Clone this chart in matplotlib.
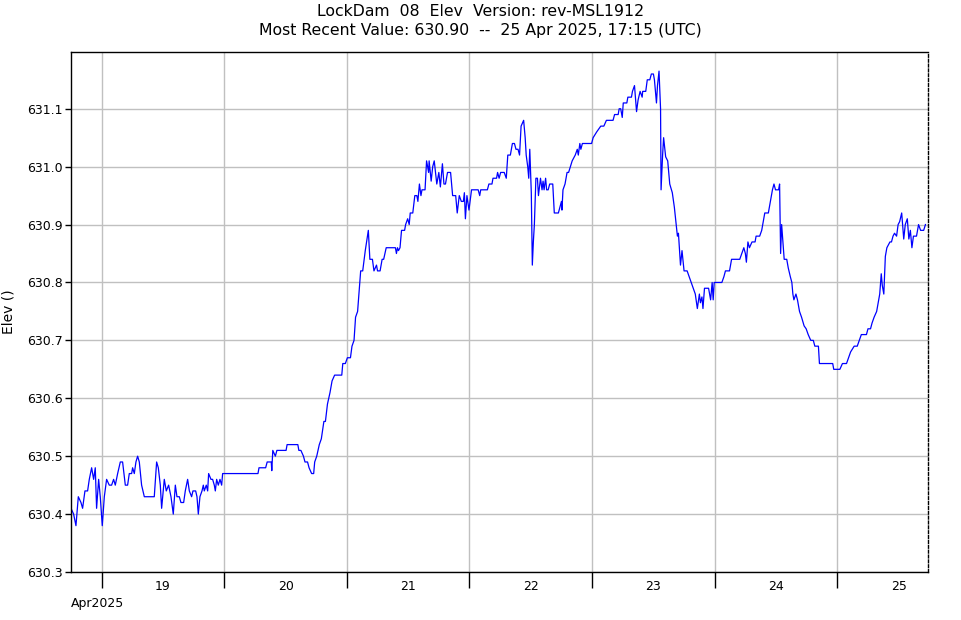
import numpy as np
import pandas as pd
import matplotlib
matplotlib.use("Agg")
import matplotlib.pyplot as plt
import matplotlib.dates as mdates

# hours after 2025-04-19 00:00 UTC, and the stage read at that time
hours = [
    -6.0, -5.49, -5.03, -4.57, -4.05, -3.73, -3.27, -2.75, -2.42, -1.96,
    -1.57, -1.25, -0.99, -0.59, -0.27, 0.12, 0.52, 0.97, 1.49, 1.95,
    2.34, 2.67, 3.13, 3.65, 4.10, 4.63, 5.08, 5.41, 5.87, 6.06,
    6.39, 6.71, 7.04, 7.37, 7.82, 8.35, 9.0, 10.30, 10.76, 11.09,
    11.48, 11.74, 12.26, 12.65, 13.11, 13.57, 14.02, 14.42, 14.74, 15.20,
    15.52, 16.05, 16.37, 16.83, 17.16, 17.61, 17.87, 18.40, 18.66, 18.92,
    19.24, 19.64, 19.90, 20.09, 20.48, 20.75, 20.94, 21.40, 21.72, 22.05,
    22.25, 22.51, 22.83, 23.16, 23.49, 23.68, 24.0,
    30.6, 30.8, 32.1, 32.4, 33.2, 33.3, 33.5, 34.0, 34.3, 36.1,
    36.3, 38.4, 38.6, 39.0, 39.5, 39.8, 40.3, 40.6, 41.1, 41.5,
    41.7, 42.1, 42.6, 43.0, 43.5, 43.8, 44.2, 44.7, 45.1, 45.6,
    47.0, 47.2, 47.7, 48.1, 48.7, 49.0, 49.4, 49.7, 50.1, 50.7,
    51.1, 51.6, 52.2, 52.5, 53.0, 53.3, 53.8, 54.0, 54.5, 54.9,
    55.2, 55.7, 57.5, 57.7, 57.9, 58.1, 58.4, 58.7, 59.3, 59.5,
    59.9, 60.2, 60.4, 60.9, 61.3, 61.7, 61.9, 62.2, 62.5, 62.7,
    63.3, 63.6, 64.0, 64.1, 64.5, 64.8, 65.1, 65.6, 66.0, 66.3,
    66.7, 67.0, 67.3, 67.7, 68.3, 68.7, 69.3, 69.6, 70.0, 70.4,
    70.8, 71.0, 71.2, 71.5, 71.9, 72.4, 73.7, 74.0, 74.2, 75.5,
    75.8, 76.4, 76.6, 77.3, 77.5, 77.8, 78.1, 78.8, 79.2, 79.5,
    80.0, 80.4, 80.8, 81.1, 81.5, 81.8, 82.1, 82.6, 82.9, 83.1,
    83.4, 83.6, 83.8, 84.1, 84.3, 84.5, 84.7, 85.0, 85.3, 85.5,
    85.9, 86.2, 86.4, 86.6, 86.9, 87.1, 87.4, 87.7,
    88.3, 88.6, 89.4, 89.7, 90.0, 90.1, 90.3, 90.7, 91.1, 91.4,
    92.1, 92.7, 93.1, 93.3, 93.6, 93.8, 94.1, 95.9, 96.2, 96.9,
    97.7, 98.3, 98.8, 100.1, 100.4, 101.1, 101.3, 101.6, 101.9, 102.1,
    102.8, 103.0, 103.7, 103.9, 104.3, 104.7, 105.0, 105.4, 105.8, 105.9,
    106.5, 106.8, 107.3, 107.6, 108.0, 108.2, 108.6, 108.8, 109.1, 109.4,
    109.5, 109.8, 110.0, 110.4, 110.8, 111.2, 111.7, 112.1, 112.7, 112.9,
    113.3, 113.6, 114.0, 114.6, 115.0, 115.4, 115.8, 116.2, 116.6, 117.0,
    117.2, 117.5, 117.7, 118.0, 118.8, 119.2, 119.5, 119.7, 119.9,
    121.4, 121.8, 122.1, 122.9, 123.3, 124.9, 125.3, 125.7, 126.0, 126.2,
    126.5, 126.8, 127.3, 127.9, 128.1, 128.8, 129.2, 129.8, 130.5, 130.9,
    131.3, 131.6, 131.9, 132.5, 132.7, 132.9, 133.1, 133.3, 133.6, 134.1,
    134.4, 134.8, 135.1, 135.3, 135.5, 135.9, 136.2, 136.6, 137.0, 137.5,
    137.9, 138.3, 138.8, 139.3, 139.6, 140.3, 140.5, 143.1, 143.3, 144.5,
    145.0, 145.8, 146.2, 146.6, 147.3, 147.9, 148.3, 148.7, 149.7, 150.0,
    150.5, 150.8, 151.2, 151.7, 152.1, 152.3, 152.6, 152.8, 153.1, 153.4,
    153.7, 154.3, 154.6, 154.9, 155.2, 155.6, 155.9, 156.2, 156.6, 157.0,
    157.3, 157.7, 158.0, 158.3, 158.6, 158.9, 159.5, 159.9, 160.3, 160.9,
    161.25,
]
elev = [
    630.41, 630.40, 630.38, 630.43, 630.42, 630.41, 630.44, 630.44, 630.46, 630.48,
    630.46, 630.48, 630.41, 630.46, 630.43, 630.38, 630.43, 630.46, 630.45, 630.45,
    630.46, 630.45, 630.47, 630.49, 630.49, 630.45, 630.45, 630.47, 630.47, 630.48,
    630.47, 630.49, 630.50, 630.49, 630.45, 630.43, 630.43, 630.43, 630.49, 630.48,
    630.45, 630.41, 630.46, 630.44, 630.45, 630.43, 630.40, 630.45, 630.43, 630.43,
    630.42, 630.42, 630.44, 630.46, 630.44, 630.43, 630.44, 630.44, 630.43, 630.40,
    630.43, 630.44, 630.45, 630.44, 630.45, 630.44, 630.47, 630.46, 630.46, 630.45,
    630.44, 630.46, 630.45, 630.46, 630.45, 630.47, 630.47,
    630.47, 630.48, 630.48, 630.49, 630.49, 630.475, 630.51, 630.50, 630.51, 630.51,
    630.52, 630.52, 630.51, 630.51, 630.50, 630.49, 630.49, 630.48, 630.47, 630.47,
    630.49, 630.50, 630.52, 630.53, 630.56, 630.56, 630.59, 630.61, 630.63, 630.64,
    630.64, 630.66, 630.66, 630.67, 630.67, 630.69, 630.70, 630.74, 630.75, 630.82,
    630.82, 630.855, 630.89, 630.84, 630.84, 630.82, 630.83, 630.82, 630.82, 630.84,
    630.84, 630.86, 630.86, 630.85, 630.86, 630.855, 630.86, 630.89, 630.89, 630.90,
    630.91, 630.90, 630.92, 630.92, 630.95, 630.95, 630.94, 630.97, 630.95, 630.96,
    630.96, 631.01, 630.99, 631.01, 630.975, 631.00, 631.01, 630.97, 630.99, 630.965,
    631.005, 630.97, 630.97, 630.99, 630.99, 630.95, 630.95, 630.92, 630.95, 630.94,
    630.94, 630.955, 630.91, 630.95, 630.925, 630.96, 630.96, 630.95, 630.96, 630.96,
    630.97, 630.97, 630.98, 630.98, 630.99, 630.98, 630.99, 630.99, 630.98, 631.02,
    631.02, 631.04, 631.04, 631.03, 631.03, 631.02, 631.07, 631.08, 631.05, 631.02,
    631.00, 630.98, 631.03, 630.955, 630.83, 630.87, 630.90, 630.98, 630.98, 630.95,
    630.98, 630.96, 630.975, 630.96, 630.98, 630.96, 630.96, 630.97,
    630.97, 630.92, 630.92, 630.93, 630.94, 630.925, 630.96, 630.97, 630.99, 630.99,
    631.01, 631.02, 631.03, 631.02, 631.04, 631.03, 631.04, 631.04, 631.05, 631.06,
    631.07, 631.07, 631.08, 631.08, 631.09, 631.09, 631.10, 631.10, 631.085, 631.11,
    631.11, 631.12, 631.12, 631.13, 631.14, 631.095, 631.115, 631.13, 631.12, 631.13,
    631.13, 631.15, 631.15, 631.16, 631.16, 631.15, 631.11, 631.14, 631.165, 631.10,
    630.96, 631.02, 631.05, 631.017, 631.01, 630.97, 630.955, 630.93, 630.88, 630.885,
    630.83, 630.855, 630.82, 630.82, 630.81, 630.80, 630.79, 630.78, 630.755, 630.78,
    630.765, 630.775, 630.755, 630.79, 630.79, 630.77, 630.80, 630.77, 630.80,
    630.80, 630.81, 630.82, 630.82, 630.84, 630.84, 630.85, 630.86, 630.85, 630.835,
    630.87, 630.86, 630.87, 630.87, 630.88, 630.88, 630.89, 630.92, 630.92, 630.94,
    630.96, 630.97, 630.96, 630.96, 630.97, 630.85, 630.90, 630.875, 630.84, 630.84,
    630.825, 630.81, 630.80, 630.78, 630.77, 630.78, 630.77, 630.75, 630.74, 630.725,
    630.72, 630.71, 630.70, 630.70, 630.69, 630.69, 630.66, 630.66, 630.65, 630.65,
    630.66, 630.66, 630.67, 630.68, 630.69, 630.69, 630.70, 630.71, 630.71, 630.72,
    630.72, 630.73, 630.74, 630.75, 630.77, 630.78, 630.815, 630.795, 630.78, 630.845,
    630.86, 630.87, 630.87, 630.88, 630.885, 630.88, 630.90, 630.905, 630.92, 630.875,
    630.90, 630.91, 630.875, 630.89, 630.86, 630.88, 630.88, 630.90, 630.89, 630.89,
    630.90,
]

title1 = "LockDam  08  Elev  Version: rev-MSL1912"
title2 = "Most Recent Value: 630.90  --  25 Apr 2025, 17:15 (UTC)"
ylabel = "Elev ()"
yticks = [630.3, 630.4, 630.5, 630.6, 630.7, 630.8, 630.9, 631.0, 631.1]

base = pd.Timestamp("2025-04-19 00:00")
times = base + pd.to_timedelta(hours, unit="h")

plt.rcParams["font.family"] = ["DejaVu Sans"]

fig = plt.figure(figsize=(9.61, 6.20), dpi=100)
ax = fig.add_axes([71 / 961, 48 / 620, 857 / 961, 520 / 620])

ax.plot(times, elev, color="#0000ff", lw=0.9)

ax.set_xlim(base + pd.Timedelta(hours=-6.0), base + pd.Timedelta(hours=161.75))
ax.set_ylim(630.3, 631.198)

ax.set_yticks(yticks)
ax.set_yticklabels([f"{v:.1f}" for v in yticks], fontsize=9)
ax.tick_params(axis="y", direction="out", length=4, width=1, pad=2)

ax.xaxis.set_major_locator(mdates.DayLocator())
ax.xaxis.set_major_formatter(plt.NullFormatter())
ax.xaxis.set_minor_locator(mdates.HourLocator(byhour=[12]))
ax.xaxis.set_minor_formatter(mdates.DateFormatter("%d"))
ax.tick_params(axis="x", which="major", direction="out", length=11.5, width=1)
ax.tick_params(axis="x", which="minor", length=0, pad=6, labelsize=9)

ax.grid(True, which="major", color="#c0c0c0", lw=1)
ax.set_axisbelow(True)

for s in ["left", "bottom", "top"]:
    ax.spines[s].set_color("black")
    ax.spines[s].set_linewidth(1)
ax.spines["right"].set_linestyle((0, (2, 1.5)))
ax.spines["right"].set_linewidth(1)

ax.text(0, -31 / 520, "Apr2025", transform=ax.transAxes, ha="left", va="center", fontsize=9)
fig.text(0.5, 1 - 12 / 620, title1, ha="center", va="center", fontsize=11.3)
fig.text(0.5, 1 - 31 / 620, title2, ha="center", va="center", fontsize=11.3)
fig.text(9 / 961, 1 - 312 / 620, ylabel, rotation=90, ha="center", va="center", fontsize=10)

fig.savefig("out.png", dpi=100)
